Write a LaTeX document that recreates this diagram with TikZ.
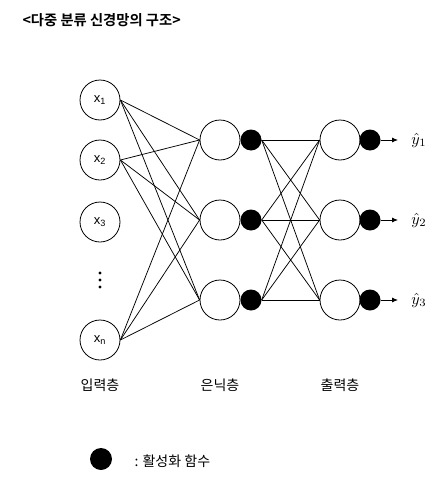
\documentclass[tikz,border=0pt]{standalone}
\usepackage{graphicx}
\usepackage{fontspec}
\newfontfamily\kr{Noto Sans CJK KR}
\newfontfamily\krb{Noto Sans CJK KR Bold}
\newfontfamily\lsans{Liberation Sans}
\usetikzlibrary{arrows.meta}
\begin{document}
\begin{tikzpicture}[x=1pt,y=-1pt,
  neuron/.style={circle,draw,minimum size=40pt,inner sep=0pt,line width=0.8pt,font=\lsans\fontsize{13}{14}\selectfont},
  act/.style={circle,fill=black,minimum size=21pt,inner sep=0pt},
  conn/.style={line width=0.75pt},
  layerlbl/.style={font=\kr\fontsize{14}{16}\selectfont},
  ylbl/.style={}]
\useasboundingbox (0,0) rectangle (442,482);
\node[font=\krb\fontsize{14.3}{16}\selectfont,anchor=west] (title) at (19,20) {<다중 분류 신경망의 구조>};
% input
\node[neuron] (x1) at (100,100) {x\textsubscript{1}};
\node[neuron] (x2) at (100,160) {x\textsubscript{2}};
\node[neuron] (x3) at (100,222) {x\textsubscript{3}};
\node[neuron] (xn) at (100,340) {x\textsubscript{n}};
\foreach \yy [count=\i] in {273,280,287} \fill (100,\yy) circle (1.7pt) coordinate (d\i);
% hidden and output
\foreach \i/\yy in {1/140,2/220,3/300}{
  \node[neuron] (h\i) at (220,\yy) {};
  \node[act] (ha\i) at (251,\yy) {};
  \node[neuron] (o\i) at (340,\yy) {};
  \node[act] (oa\i) at (370,\yy) {};
  \coordinate (e\i) at (398,\yy);
  \node[ylbl] (y\i) at (419,\yy) {\scalebox{1.6}{$\hat{y}_{\i}$}};
  \draw[line width=0.8pt,-{Latex[length=6pt,width=5pt]}] (oa\i.east) -- (e\i);
}
\foreach \s in {x1,x2,xn}
  \foreach \t in {h1,h2,h3}
    \draw[conn] (\s.east) -- (\t.west);
\foreach \s in {ha1,ha2,ha3}
  \foreach \t in {o1,o2,o3}
    \draw[conn] (\s.east) -- (\t.west);
% labels
\node[layerlbl] (l1) at (100,385) {입력층};
\node[layerlbl] (l2) at (220,385) {은닉층};
\node[layerlbl] (l3) at (340,385) {출력층};
% legend
\node[act,minimum size=22pt] (leg) at (101,459) {};
\node[layerlbl,anchor=west] (legt) at (131,461) {: 활성화 함수};
\end{tikzpicture}
\end{document}
